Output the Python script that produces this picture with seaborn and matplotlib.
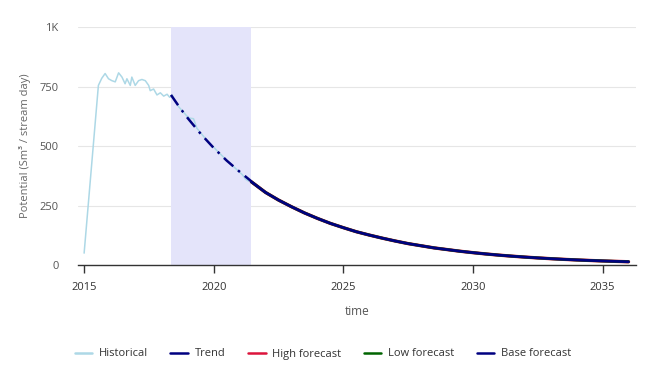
import matplotlib.pyplot as plt
import pandas as pd
import seaborn as sns
from matplotlib.lines import Line2D

# historical production (fractional year, value)
hist_t = [2015.00, 2015.55, 2015.68, 2015.81, 2015.94, 2016.07, 2016.20, 2016.33,
          2016.46, 2016.58, 2016.65, 2016.78, 2016.84, 2016.97, 2017.10, 2017.23,
          2017.36, 2017.49, 2017.55, 2017.68, 2017.81, 2017.94, 2018.07, 2018.20,
          2018.30, 2018.40, 2018.50, 2018.65, 2018.83, 2018.95, 2019.05, 2019.22,
          2019.35, 2019.50, 2019.65, 2019.80, 2020.00, 2020.15, 2020.30, 2020.50,
          2020.70, 2020.90, 2021.10, 2021.22, 2021.35]
hist_v = [50, 755, 785, 805, 783, 775, 770, 808,
          790, 762, 783, 755, 790, 755, 775, 780,
          775, 755, 733, 740, 715, 724, 710, 718,
          705, 715, 690, 665, 643, 628, 618, 615,
          575, 555, 535, 515, 495, 478, 462, 440,
          420, 400, 380, 362, 352]

trend_t = [2018.35, 2018.7, 2019.0, 2019.5, 2020.0, 2020.5, 2021.0, 2021.45]
trend_v = [715, 660, 617, 551, 492, 439, 392, 352]

fc_t = [2021.45, 2022.0, 2022.5, 2023.0, 2023.5, 2024.0, 2024.5, 2025.0, 2025.5,
        2026.0, 2026.5, 2027.0, 2027.5, 2028.0, 2028.5, 2029.0, 2029.5, 2030.0,
        2030.5, 2031.0, 2031.5, 2032.0, 2032.5, 2033.0, 2033.5, 2034.0, 2034.5,
        2035.0, 2035.5, 2036.0]
base_v = [350, 305, 273, 245, 219, 196, 175, 157, 140,
          126, 113, 101, 90, 81, 72, 65, 58, 52,
          46.5, 41.6, 37.3, 33.4, 29.9, 26.7, 23.9, 21.4, 19.2,
          17.2, 15.4, 13.8]
high_v = base_v
low_v = base_v

band = (2018.35, 2021.45)

series = ['Historical', 'Trend', 'High forecast', 'Low forecast', 'Base forecast']
colors = ['#add8e6', '#000080', '#dc143c', '#006400', '#000080']

hist = pd.DataFrame({'time': hist_t, 'value': hist_v})
trend = pd.DataFrame({'time': trend_t, 'value': trend_v})
high = pd.DataFrame({'time': fc_t, 'value': high_v})
low = pd.DataFrame({'time': fc_t, 'value': low_v})
base = pd.DataFrame({'time': fc_t, 'value': base_v})

sns.set_style('white')
plt.rcParams['font.family'] = ['Open Sans', 'DejaVu Sans']

fig = plt.figure(figsize=(6.46, 3.77), dpi=100)
ax = fig.add_axes([0.121, 0.297, 0.864, 0.631])

ax.axvspan(*band, color='#e4e4fa', zorder=1.5, lw=0)

sns.lineplot(data=hist, x='time', y='value', color=colors[0], lw=1.1, ax=ax, zorder=3)
sns.lineplot(data=trend, x='time', y='value', color=colors[1], lw=1.8, ax=ax, zorder=4,
             linestyle=(0, (5, 2.5, 1, 2.5)))
sns.lineplot(data=high, x='time', y='value', color=colors[2], lw=2.4, ax=ax, zorder=3)
sns.lineplot(data=low, x='time', y='value', color=colors[3], lw=2.1, ax=ax, zorder=3)
sns.lineplot(data=base, x='time', y='value', color=colors[4], lw=1.9, ax=ax, zorder=4)

ax.set_xlim(2014.77, 2036.3)
ax.set_ylim(0, 1000)
ax.set_xticks([2015, 2020, 2025, 2030, 2035])
ax.set_yticks([0, 250, 500, 750, 1000])
ax.set_yticklabels(['0', '250', '500', '750', '1K'])
ax.grid(axis='y', color='#e6e6e6', lw=0.8)
ax.set_axisbelow(True)

for s in ['top', 'right', 'left']:
    ax.spines[s].set_visible(False)
ax.spines['bottom'].set_color('#333333')
ax.spines['bottom'].set_linewidth(1.0)

ax.tick_params(axis='x', length=6, width=1, color='#333333', pad=6,
               labelsize=8, labelcolor='#333333', bottom=True)
ax.tick_params(axis='y', length=0, pad=14, labelsize=8, labelcolor='#555555')

ax.set_xlabel('time', fontsize=8.5, color='#555555', labelpad=9)
ax.set_ylabel('Potential (Sm³ / stream day)', fontsize=8, color='#666666', labelpad=6)

handles = [Line2D([], [], color=c, lw=1.8) for c in colors]
fig.legend(handles, series, loc='center', bbox_to_anchor=(0.5, 1 - 354 / 377),
           ncol=5, frameon=False, fontsize=8, handlelength=1.6, handletextpad=0.6,
           columnspacing=2.0, labelcolor='#333333')

fig.savefig('out.png', dpi=100)
